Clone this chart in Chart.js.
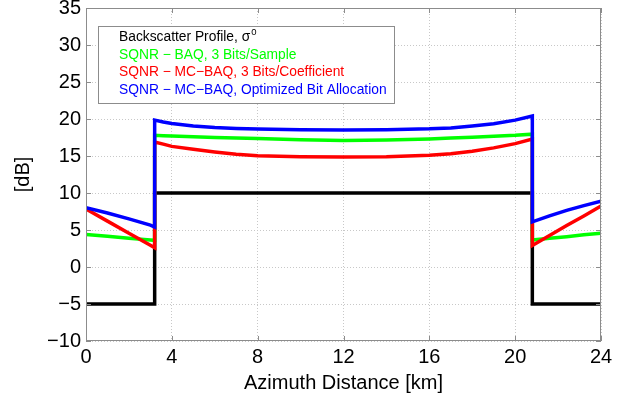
<!DOCTYPE html>
<html>
<head>
<meta charset="utf-8">
<script src="https://cdn.jsdelivr.net/npm/chart.js@4"></script>
<style>
  body { margin: 0; background: #fff; }
  #wrap { width: 626px; height: 401px; }
</style>
</head>
<body>
<div id="wrap"><canvas id="grafico" width="626" height="401"></canvas></div>
<script>
// azimuth positions (km); the steps at 3.2 and 20.8 km repeat the x value
const distKm = [0, 1, 2, 3, 3.2,
  3.2, 3.6, 4, 5, 6, 7, 8, 10, 12, 14, 16, 17, 18, 19, 20, 20.8,
  20.8, 21.6, 22.4, 23.2, 24];

const sigma0 = [-5, -5, -5, -5, -5,
  10, 10, 10, 10, 10, 10, 10, 10, 10, 10, 10, 10, 10, 10, 10, 10,
  -5, -5, -5, -5, -5];
const sqnrBaq = [4.4, 4.15, 3.9, 3.65, 3.6,
  17.8, 17.75, 17.7, 17.6, 17.5, 17.42, 17.35, 17.2, 17.1, 17.15, 17.3, 17.42, 17.55, 17.68, 17.8, 17.95,
  3.65, 3.9, 4.1, 4.35, 4.55];
const sqnrMc3 = [7.85, 6.2, 4.55, 2.95, 2.6,
  16.9, 16.6, 16.3, 15.9, 15.55, 15.25, 15.05, 14.9, 14.85, 14.9, 15.1, 15.3, 15.65, 16.1, 16.67, 17.3,
  2.9, 4.25, 5.6, 6.9, 8.25];
const sqnrMcOpt = [8.0, 7.3, 6.5, 5.65, 5.4,
  19.85, 19.6, 19.4, 19.05, 18.85, 18.72, 18.65, 18.55, 18.5, 18.55, 18.67, 18.8, 19.05, 19.35, 19.85, 20.4,
  6.1, 6.9, 7.65, 8.3, 8.9];

const xTicks = [0, 4, 8, 12, 16, 20, 24];
const yTicks = [-10, -5, 0, 5, 10, 15, 20, 25, 30, 35];

const legendLabels = [
  'Backscatter Profile, σ',
  'SQNR − BAQ, 3 Bits/Sample',
  'SQNR − MC−BAQ, 3 Bits/Coefficient',
  'SQNR − MC−BAQ, Optimized Bit Allocation'
];
const cores = ['#000000', '#00ff00', '#ff0000', '#0000ff'];

const fonte = '"Liberation Sans", Arial, sans-serif';

function serie(vals, i) {
  return {
    label: legendLabels[i],
    data: distKm.map((x, k) => ({ x: x, y: vals[k] })),
    borderColor: cores[i],
    backgroundColor: cores[i],
    borderWidth: 3.5,
    pointRadius: 0,
    tension: 0,
    order: 3 - i
  };
}

// box + ticks around the plot area, and the legend inside it
const moldura = {
  id: 'moldura',
  afterDatasetsDraw(chart) {
    const c = chart.ctx;
    const a = chart.chartArea;
    const sx = chart.scales.x, sy = chart.scales.y;
    c.save();
    c.strokeStyle = '#8c8c8c';
    c.lineWidth = 1;
    c.strokeRect(a.left + 0.5, a.top + 0.5, a.right - a.left - 1, a.bottom - a.top - 1);
    c.beginPath();
    xTicks.forEach(v => {
      const px = Math.round(sx.getPixelForValue(v)) + 0.5;
      c.moveTo(px, a.bottom); c.lineTo(px, a.bottom - 5);
      c.moveTo(px, a.top); c.lineTo(px, a.top + 5);
    });
    yTicks.forEach(v => {
      const py = Math.round(sy.getPixelForValue(v)) + 0.5;
      c.moveTo(a.left, py); c.lineTo(a.left + 5, py);
      c.moveTo(a.right, py); c.lineTo(a.right - 5, py);
    });
    c.stroke();

    // legend
    const lx = a.left + 12, ly = a.top + 18;
    c.fillStyle = '#fff';
    c.fillRect(lx, ly, 296, 77);
    c.strokeStyle = '#8c8c8c';
    c.strokeRect(lx + 0.5, ly + 0.5, 296, 77);
    c.font = '13.8px ' + fonte;
    c.textBaseline = 'middle';
    c.textAlign = 'left';
    legendLabels.forEach((t, i) => {
      const ty = ly + 11 + i * 17.7;
      c.fillStyle = cores[i];
      c.fillText(t, lx + 21, ty);
      if (i === 0) {
        const w = c.measureText(t).width;
        c.font = '9.5px ' + fonte;
        c.fillText('0', lx + 21 + w + 1, ty - 5);
        c.font = '13.8px ' + fonte;
      }
    });
    c.restore();
  }
};

const ctx = document.getElementById('grafico').getContext('2d');
const meuGrafico = new Chart(ctx, {
  type: 'line',
  data: {
    datasets: [serie(sigma0, 0), serie(sqnrBaq, 1), serie(sqnrMc3, 2), serie(sqnrMcOpt, 3)]
  },
  options: {
    responsive: false,
    animation: false,
    layout: { padding: { top: 8, right: 25, left: 0, bottom: 0 } },
    plugins: {
      legend: { display: false },
      tooltip: { enabled: false }
    },
    scales: {
      x: {
        type: 'linear',
        min: 0,
        max: 24,
        afterBuildTicks: s => { s.ticks = xTicks.map(v => ({ value: v })); },
        afterFit: s => { s.height = 60; s.paddingLeft = 0; s.paddingRight = 0; },
        grid: { color: '#c8c8c8', drawTicks: false },
        border: { display: false, dash: [1, 2] },
        ticks: { color: '#000', font: { family: fonte, size: 20 }, padding: 4, maxRotation: 0 },
        title: {
          display: true,
          text: 'Azimuth Distance [km]',
          color: '#000',
          font: { family: fonte, size: 20 },
          padding: { top: 6, bottom: 6 }
        }
      },
      y: {
        min: -10,
        max: 35,
        afterBuildTicks: s => { s.ticks = yTicks.map(v => ({ value: v })); },
        afterFit: s => { s.width = 86; s.paddingTop = 0; s.paddingBottom = 0; },
        grid: { color: '#c8c8c8', drawTicks: false },
        border: { display: false, dash: [1, 2] },
        ticks: {
          color: '#000',
          font: { family: fonte, size: 20 },
          padding: 5,
          callback: v => v < 0 ? '−' + Math.abs(v) : String(v)
        },
        title: {
          display: true,
          text: '[dB]',
          color: '#000',
          font: { family: fonte, size: 20 },
          padding: { top: 11, bottom: 0 }
        }
      }
    }
  },
  plugins: [moldura]
});
</script>
</body>
</html>
